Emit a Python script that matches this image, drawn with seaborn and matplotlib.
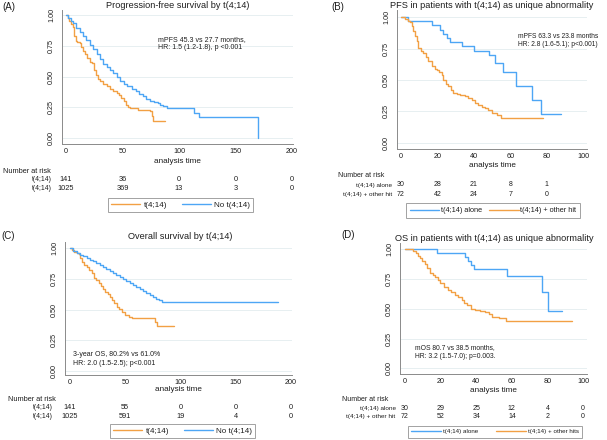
import numpy as np
import pandas as pd
import matplotlib
matplotlib.use("Agg")
import matplotlib.pyplot as plt
from matplotlib.lines import Line2D
from matplotlib.transforms import blended_transform_factory
import seaborn as sns

# ---------------- data ----------------
# Panel A: PFS by t(4;14)
a_t414_time = [0, 1.5, 3, 4.5, 6, 7.5, 8.5, 10, 12, 13.5, 15, 17, 19, 21, 23, 25, 26.5, 28, 30, 33, 36, 39, 42, 45, 47, 49, 51, 53, 55, 57, 64, 70, 74.3, 75.8, 77.3, 87.6]
a_t414_surv = [1.0, 0.975, 0.95, 0.925, 0.9, 0.83, 0.79, 0.78, 0.77, 0.74, 0.71, 0.68, 0.65, 0.62, 0.61, 0.55, 0.51, 0.48, 0.46, 0.44, 0.42, 0.40, 0.38, 0.365, 0.35, 0.325, 0.30, 0.27, 0.25, 0.244, 0.23, 0.225, 0.217, 0.176, 0.136, 0.136]
a_no_time = [0, 2, 4, 6.5, 9, 12, 15, 18, 21, 24, 27, 30, 33, 36, 39, 42, 45, 48, 51, 54, 58, 62, 65, 68, 71, 74, 78, 81, 83, 86, 89, 113.3, 117.7, 170.2]
a_no_surv = [1.0, 0.975, 0.955, 0.935, 0.895, 0.86, 0.83, 0.80, 0.76, 0.72, 0.68, 0.64, 0.605, 0.575, 0.55, 0.53, 0.50, 0.46, 0.44, 0.42, 0.40, 0.38, 0.36, 0.34, 0.32, 0.30, 0.29, 0.285, 0.27, 0.26, 0.246, 0.206, 0.173, 0.0]

# Panel B: PFS, t(4;14) alone vs + other hit
b_alone_time = [0, 4, 16.8, 21.4, 23.3, 25.1, 26.9, 33.3, 40, 48.5, 51.6, 56.2, 63.3, 71.8, 76.7, 87.8]
b_alone_surv = [1.0, 0.967, 0.933, 0.90, 0.867, 0.833, 0.80, 0.767, 0.733, 0.70, 0.633, 0.566, 0.453, 0.34, 0.228, 0.228]
b_other_time = [0, 2, 4, 5, 6, 6.8, 7.6, 8.6, 9.5, 11, 12.3, 13.5, 15, 16.9, 18.5, 19.6, 21, 22.4, 23.3, 24.5, 26, 27.5, 28.7, 30.5, 32.4, 35, 37, 39, 40.7, 42.5, 44.3, 46, 48, 50, 53, 55, 78.2]
b_other_surv = [1.0, 0.986, 0.972, 0.958, 0.93, 0.89, 0.85, 0.81, 0.754, 0.73, 0.714, 0.68, 0.648, 0.61, 0.59, 0.58, 0.56, 0.542, 0.50, 0.47, 0.45, 0.42, 0.397, 0.386, 0.38, 0.37, 0.357, 0.34, 0.317, 0.30, 0.286, 0.275, 0.264, 0.24, 0.222, 0.20, 0.20]

# Panel C: OS by t(4;14)
c_t414_time = [0, 2, 4, 6, 7.9, 9.5, 10.9, 13, 15.4, 17.5, 19.9, 22, 24, 25.9, 28, 30, 31.9, 34, 36, 38, 40, 42.5, 44.5, 47, 50, 53.1, 56, 77.2, 79, 93.8]
c_t414_surv = [1.0, 0.985, 0.97, 0.965, 0.955, 0.92, 0.89, 0.865, 0.85, 0.82, 0.796, 0.76, 0.74, 0.715, 0.69, 0.665, 0.646, 0.625, 0.60, 0.579, 0.555, 0.524, 0.505, 0.483, 0.46, 0.44, 0.43, 0.395, 0.365, 0.365]
c_no_time = [0, 3, 6, 9, 12, 15, 18, 21, 24, 27, 30, 33, 36, 39, 42, 45, 48, 51, 54, 57, 60, 63, 66, 69, 72, 75, 78, 81, 83.5, 188.5]
c_no_surv = [1.0, 0.98, 0.96, 0.948, 0.935, 0.92, 0.905, 0.893, 0.88, 0.862, 0.845, 0.83, 0.815, 0.80, 0.785, 0.765, 0.75, 0.732, 0.715, 0.698, 0.682, 0.665, 0.65, 0.633, 0.62, 0.605, 0.59, 0.575, 0.562, 0.562]

# Panel D: OS, t(4;14) alone vs + other hits
d_alone_time = [0, 17.8, 33.7, 35.6, 37.1, 38.9, 57.1, 76.8, 80.5, 88]
d_alone_surv = [1.0, 0.967, 0.933, 0.90, 0.867, 0.833, 0.776, 0.644, 0.485, 0.485]
d_other_time = [0, 4.7, 6, 7.5, 8.5, 9.4, 11, 12.2, 14, 15.5, 16.9, 18.5, 19.7, 22, 24.3, 26, 28.1, 30, 31.9, 33.3, 34.7, 37, 39.3, 42, 44.9, 47, 48.7, 53, 56.7, 93.6]
d_other_surv = [1.0, 0.986, 0.972, 0.944, 0.93, 0.90, 0.875, 0.84, 0.80, 0.786, 0.77, 0.74, 0.714, 0.686, 0.658, 0.64, 0.616, 0.60, 0.574, 0.55, 0.532, 0.50, 0.49, 0.483, 0.476, 0.455, 0.434, 0.42, 0.40, 0.40]

# risk tables
a_risk_ticks = [0, 50, 100, 150, 200]
a_risk_t414 = [141, 36, 0, 0, 0]
a_risk_no = [1025, 369, 13, 3, 0]
b_risk_ticks = [0, 20, 40, 60, 80]
b_risk_alone = [30, 28, 21, 8, 1]
b_risk_other = [72, 42, 24, 7, 0]
c_risk_ticks = [0, 50, 100, 150, 200]
c_risk_t414 = [141, 55, 0, 0, 0]
c_risk_no = [1025, 591, 19, 4, 0]
d_risk_ticks = [0, 20, 40, 60, 80, 100]
d_risk_alone = [30, 29, 25, 12, 4, 0]
d_risk_other = [72, 52, 34, 14, 2, 0]

y_ticks = [0, 0.25, 0.5, 0.75, 1.0]
y_tick_labels = ["0.00", "0.25", "0.50", "0.75", "1.00"]

ORANGE = "#F2A044"
BLUE = "#4DA6F5"
TXT = "#1e1e1e"
AXC = "#8a8a8a"
GRID = "#E3ECEF"

# ---------------- style ----------------
sns.set_style("white")
plt.rcParams["font.family"] = ["Liberation Sans", "DejaVu Sans"]

W, H = 607, 440
fig = plt.figure(figsize=(6.07, 4.40), dpi=100)


def fx(p):
    return p / W


def fy(p):
    return 1 - p / H


def make_axes(l, r, t, b):
    return fig.add_axes([fx(l), fy(b), (r - l) / W, (b - t) / H])


def style_axes(ax, xlim, ylim, xticks, xlabel_py, ax_px):
    l, r, t, b = ax_px
    ax.set_xlim(*xlim)
    ax.set_ylim(*ylim)
    ax.set_xticks(xticks)
    ax.set_xticklabels([str(v) for v in xticks])
    ax.set_yticks(y_ticks)
    ax.set_yticklabels(y_tick_labels, rotation=90, va="center")
    for s in ["top", "right"]:
        ax.spines[s].set_visible(False)
    for s in ["left", "bottom"]:
        ax.spines[s].set_color(AXC)
        ax.spines[s].set_linewidth(0.7)
    ax.tick_params(axis="both", colors=AXC, labelcolor=TXT, length=2.4, width=0.6,
                   labelsize=5.2, direction="out")
    ax.tick_params(axis="x", pad=0.8)
    ax.tick_params(axis="y", pad=2.6)
    for v in y_ticks:
        ax.axhline(v, color=GRID, lw=0.6, zorder=0)
    ax.set_xlabel("analysis time", fontsize=5.9, color=TXT)
    ax.set_ylabel("")
    ax.xaxis.set_label_coords(0.5, (b - xlabel_py) / (b - t))
    ax.xaxis.label.set_va("center")
    ax.set_facecolor("white")


def draw_curves(ax, series, order, palette):
    frames = []
    for name, (tt, ss) in series.items():
        frames.append(pd.DataFrame({"time": tt, "surv": ss, "group": name}))
    df = pd.concat(frames, ignore_index=True)
    sns.lineplot(data=df, x="time", y="surv", hue="group", hue_order=order,
                 palette=palette, estimator=None, sort=False, drawstyle="steps-post",
                 lw=1.0, legend=False, ax=ax, zorder=3)


def risk_table(ax, ticks, rows, row_labels, header_px, label_right_px, row_py, fs=5.3):
    trans = blended_transform_factory(ax.transData, fig.transFigure)
    fig.text(fx(header_px[0]), fy(header_px[1]), "Number at risk", fontsize=fs,
             color=TXT, ha="left", va="center")
    for vals, lab, py in zip(rows, row_labels, row_py):
        fig.text(fx(label_right_px), fy(py), lab, fontsize=fs * 0.92, color=TXT,
                 ha="right", va="center")
        for t, v in zip(ticks, vals):
            ax.text(t, fy(py), str(v), transform=trans, fontsize=fs, color=TXT,
                    ha="center", va="center", clip_on=False)


def legend(labels, colors, center_px, fs, hl, htp, cs, bp=0.45):
    handles = [Line2D([0], [0], color=c, lw=1.0) for c in colors]
    leg = fig.legend(handles, labels, loc="center",
                     bbox_to_anchor=(fx(center_px[0]), fy(center_px[1])),
                     ncol=2, fontsize=fs, frameon=True, fancybox=False,
                     edgecolor="#8a8a8a", handlelength=hl, handletextpad=htp,
                     columnspacing=cs, borderpad=bp, labelcolor=TXT)
    leg.get_frame().set_linewidth(0.7)


# ---------------- Panel A ----------------
pa = (62, 293, 10, 144)
axA = make_axes(*pa)
draw_curves(axA, {"t(4;14)": (a_t414_time, a_t414_surv),
                  "No t(4;14)": (a_no_time, a_no_surv)},
            ["t(4;14)", "No t(4;14)"], {"t(4;14)": ORANGE, "No t(4;14)": BLUE})
style_axes(axA, (-3.54, 200.9), (-0.049, 1.041), [0, 50, 100, 150, 200], 161.7, pa)
fig.text(fx(177.5), fy(6), "Progression-free survival by t(4;14)", fontsize=6.6,
         color=TXT, ha="center", va="center")
fig.text(fx(2), fy(7.5), "(A)", fontsize=7, color=TXT, ha="left", va="center")
fig.text(fx(157.7), fy(40), "mPFS 45.3 vs 27.7 months,", fontsize=5.0, color=TXT, va="center")
fig.text(fx(157.7), fy(47.5), "HR: 1.5 (1.2-1.8), p <0.001", fontsize=5.0, color=TXT, va="center")
risk_table(axA, a_risk_ticks, [a_risk_t414, a_risk_no], ["t(4;14)", "t(4;14)"],
           (3, 171), 51.5, [179.5, 188])
legend(["t(4;14)", "No t(4;14)"], [ORANGE, BLUE], (180.5, 205), 5.8, 3.6, 0.4, 1.8)

# ---------------- Panel B ----------------
pb = (397, 587, 10, 149)
axB = make_axes(*pb)
draw_curves(axB, {"t(4;14) alone": (b_alone_time, b_alone_surv),
                  "t(4;14) + other hit": (b_other_time, b_other_surv)},
            ["t(4;14) alone", "t(4;14) + other hit"],
            {"t(4;14) alone": BLUE, "t(4;14) + other hit": ORANGE})
style_axes(axB, (-2.2, 102.2), (-0.048, 1.056), [0, 20, 40, 60, 80, 100], 165.7, pb)
fig.text(fx(492), fy(6), "PFS in patients with t(4;14) as unique abnormality",
         fontsize=6.6, color=TXT, ha="center", va="center")
fig.text(fx(331.5), fy(7), "(B)", fontsize=7, color=TXT, ha="left", va="center")
fig.text(fx(518.3), fy(36.7), "mPFS 63.3 vs 23.8 months", fontsize=4.8, color=TXT, va="center")
fig.text(fx(518.3), fy(44.3), "HR: 2.8 (1.6-5.1); p<0.001)", fontsize=4.8, color=TXT, va="center")
risk_table(axB, b_risk_ticks, [b_risk_alone, b_risk_other],
           ["t(4;14) alone", "t(4;14) + other hit"], (337.7, 175.7), 392.5,
           [185, 194.3], fs=5.0)
legend(["t(4;14) alone", "t(4;14) + other hit"], [BLUE, ORANGE], (493, 210.7),
       5.3, 4.0, 0.2, 1.0, bp=0.5)

# ---------------- Panel C ----------------
pc = (65, 292, 242, 375)
axC = make_axes(*pc)
draw_curves(axC, {"t(4;14)": (c_t414_time, c_t414_surv),
                  "No t(4;14)": (c_no_time, c_no_surv)},
            ["t(4;14)", "No t(4;14)"], {"t(4;14)": ORANGE, "No t(4;14)": BLUE})
style_axes(axC, (-4.5, 200.9), (-0.033, 1.051), [0, 50, 100, 150, 200], 389.3, pc)
fig.text(fx(180), fy(236.7), "Overall survival by t(4;14)", fontsize=6.6,
         color=TXT, ha="center", va="center")
fig.text(fx(1), fy(236), "(C)", fontsize=7, color=TXT, ha="left", va="center")
fig.text(fx(72.7), fy(354.3), "3-year OS, 80.2% vs 61.0%", fontsize=5.0, color=TXT, va="center")
fig.text(fx(72.7), fy(363.3), "HR: 2.0 (1.5-2.5); p<0.001", fontsize=5.0, color=TXT, va="center")
risk_table(axC, c_risk_ticks, [c_risk_t414, c_risk_no], ["t(4;14)", "t(4;14)"],
           (8, 399), 52.5, [407.7, 416.5])
legend(["t(4;14)", "No t(4;14)"], [ORANGE, BLUE], (182.5, 431), 5.8, 3.6, 0.4, 1.8)

# ---------------- Panel D ----------------
pd_ = (400, 587, 243, 374)
axD = make_axes(*pd_)
draw_curves(axD, {"t(4;14) alone": (d_alone_time, d_alone_surv),
                  "t(4;14) + other hits": (d_other_time, d_other_surv)},
            ["t(4;14) alone", "t(4;14) + other hits"],
            {"t(4;14) alone": BLUE, "t(4;14) + other hits": ORANGE})
style_axes(axD, (-2.8, 102.2), (-0.048, 1.053), [0, 20, 40, 60, 80, 100], 390, pd_)
fig.text(fx(494), fy(238.3), "OS in patients with t(4;14) as unique abnormality",
         fontsize=6.6, color=TXT, ha="center", va="center")
fig.text(fx(341.5), fy(235), "(D)", fontsize=7, color=TXT, ha="left", va="center")
fig.text(fx(415), fy(347.7), "mOS 80.7 vs 38.5 months,", fontsize=4.9, color=TXT, va="center")
fig.text(fx(415), fy(356.7), "HR: 3.2 (1.5-7.0); p=0.003.", fontsize=4.9, color=TXT, va="center")
risk_table(axD, d_risk_ticks, [d_risk_alone, d_risk_other],
           ["t(4;14) alone", "t(4;14) + other hit"], (341.7, 399.3), 395.5,
           [408.3, 416.7], fs=5.0)
legend(["t(4;14) alone", "t(4;14) + other hits"], [BLUE, ORANGE], (495, 431.7),
       4.5, 4.8, 0.3, 2.8, bp=0.55)

fig.savefig("out.png", dpi=100, facecolor="white")
